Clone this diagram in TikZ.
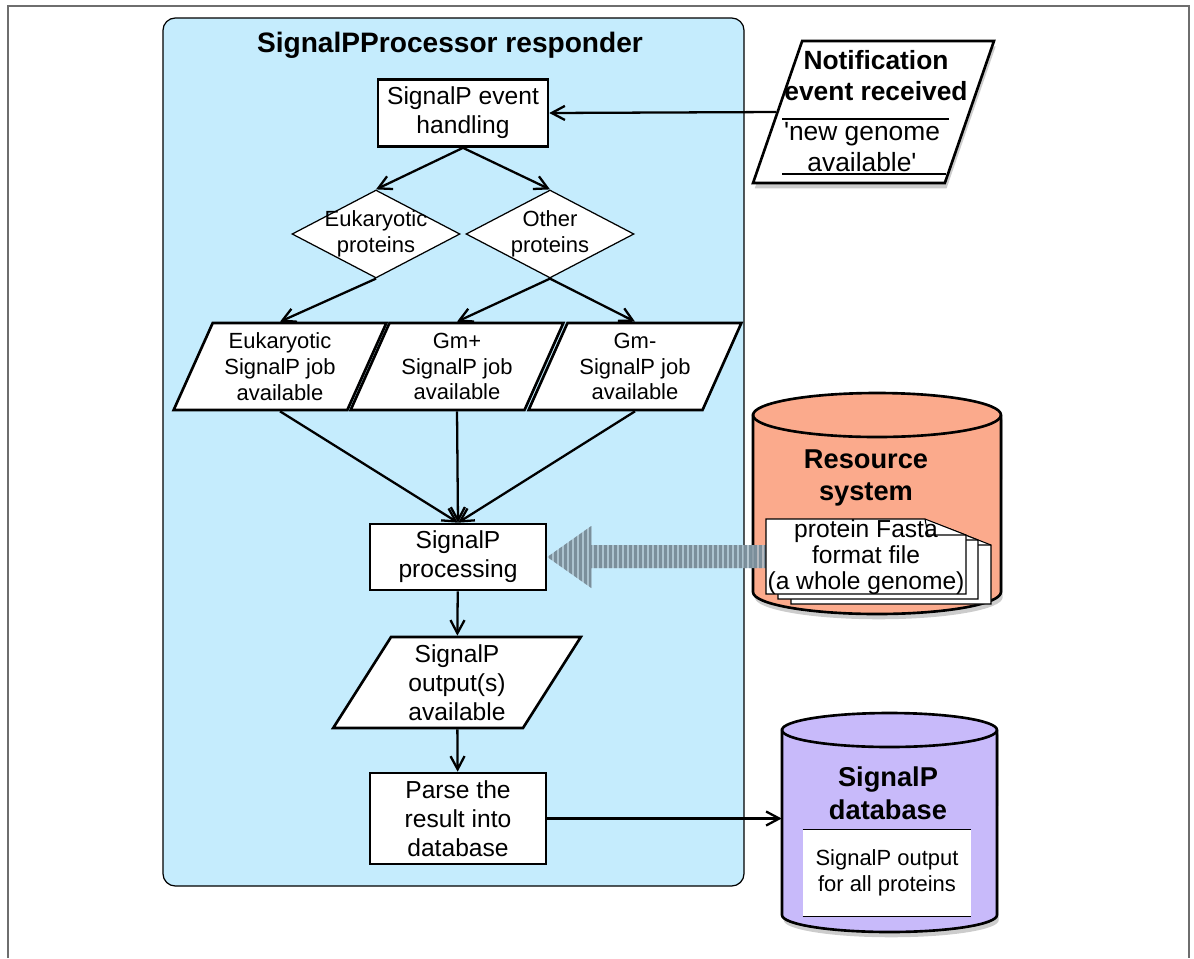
\documentclass[tikz,border=0pt]{standalone}
\usepackage{fontspec}
\setmainfont{Liberation Sans}
\usetikzlibrary{shapes.geometric,arrows.meta,shadows,positioning}

\definecolor{panelblue}{RGB}{197,236,253}
\definecolor{salmon}{RGB}{251,170,140}
\definecolor{lilac}{RGB}{200,186,250}
\definecolor{framegray}{RGB}{110,110,110}
\definecolor{stripedark}{RGB}{118,138,150}
\definecolor{stripelight}{RGB}{168,188,200}

\tikzset{
  every node/.style={font=\fontsize{14}{16.5}\selectfont},
  small/.style={font=\fontsize{12.5}{14.7}\selectfont},
  heading/.style={font=\bfseries\fontsize{15.5}{18.5}\selectfont, align=center},
  procbox/.style={draw, line width=1.5pt, fill=white, align=center, inner sep=1pt},
  iodata/.style={trapezium, trapezium left angle=65, trapezium right angle=115,
    trapezium stretches=true, draw, line width=1.5pt, fill=white, align=center, inner sep=1pt},
  choice/.style={diamond, draw, line width=0.7pt, fill=white, inner sep=0pt,
    minimum width=3.36cm, minimum height=1.76cm},
  storebody/.style={draw, line width=1.5pt,
    drop shadow={opacity=0.4, shadow xshift=1pt, shadow yshift=-3pt}},
  arr/.style={-{Straight Barb[length=7.5pt,width=8pt]}, line width=1.3pt}
}

\begin{document}
\begin{tikzpicture}[x=0.02cm, y=-0.02cm]
\useasboundingbox (0,0) rectangle (1194,958);
\draw[framegray, line width=1.2pt] (8,958) -- (8,6) -- (1189,6) -- (1189,958);

% responder panel
\draw[fill=panelblue, rounded corners=7pt, line width=0.7pt] (163,18) rectangle (744,886);
\node[font=\bfseries\fontsize{16}{19}\selectfont] (title) at (450,45) {SignalPProcessor responder};

\node[procbox, minimum width=3.4cm, minimum height=1.34cm] (event) at (463,113) {SignalP event\\handling};
\node[choice, label={[small, align=center]center:Eukaryotic\\proteins}] (eukq) at (376,234) {};
\node[choice, label={[small, align=center]center:Other\\proteins}] (othq) at (550,234) {};
\node[iodata, small, minimum width=4.26cm, minimum height=1.74cm] (eukjob) at (280,366.5) {Eukaryotic\\SignalP job\\available};
\node[iodata, small, minimum width=4.26cm, minimum height=1.74cm] (gmpjob) at (457,366.5) {Gm+\\SignalP job\\available};
\node[iodata, small, minimum width=4.26cm, minimum height=1.74cm] (gmnjob) at (635,366.5) {Gm-\\SignalP job\\available};
\node[procbox, minimum width=3.52cm, minimum height=1.32cm] (sigproc) at (458,557) {SignalP\\processing};
\node[iodata, trapezium left angle=61, trapezium right angle=119, minimum width=4.96cm, minimum height=1.82cm] (outp) at (457,682.5) {SignalP\\output(s)\\available};
\node[procbox, minimum width=3.52cm, minimum height=1.82cm] (parse) at (458,818.5) {Parse the\\result into\\database};

\draw[arr] (event.south) -- (eukq.north);
\draw[arr] (event.south) -- (othq.north);
\draw[arr] (eukq.south) -- (eukjob.north);
\draw[arr] (othq.south) -- (gmpjob.north);
\draw[arr] (othq.south) -- (gmnjob.north);
\draw[arr] (eukjob.south) -- (sigproc.north);
\draw[arr] (gmpjob.south) -- (sigproc.north);
\draw[arr] (gmnjob.south) -- (sigproc.north);
\draw[arr] (sigproc) -- (outp);
\draw[arr] (outp) -- (parse);

% notification
\node[iodata, trapezium left angle=71, trapezium right angle=109, minimum width=4.82cm, minimum height=2.84cm,
  drop shadow={opacity=0.4, shadow xshift=1pt, shadow yshift=-3pt}] (notif) at (873.5,112) {};
\node[heading, font=\bfseries\fontsize{15}{17.6}\selectfont] (notiftitle) at (876,76) {Notification\\event received};
\node[align=center, font=\fontsize{15}{17.6}\selectfont] (notifmsg) at (862,147) {\textquotesingle new genome\\available\textquotesingle};
\draw[line width=0.7pt] (782,119) -- (949,119);
\draw[line width=0.7pt] (782,174) -- (946,174);
\draw[arr] (notif.west) -- (event.east);

% resource system
\node[minimum width=4.96cm, minimum height=4.42cm, inner sep=0pt] (ressys) at (877,503.5) {};
\path[storebody, fill=salmon] (753,415) -- (753,592) arc[start angle=180, end angle=360, x radius=2.48cm, y radius=0.44cm]
  -- (1001,415) arc[start angle=0, end angle=180, x radius=2.48cm, y radius=0.44cm] -- cycle;
\draw[line width=1.5pt] (753,415) arc[start angle=180, end angle=360, x radius=2.48cm, y radius=0.44cm];
\node[heading] (reslabel) at (866,478) {Resource\\system};
\begin{scope}
\path[fill=stripelight, opacity=0.85] (sigproc.east) -- ++(44,-31) -- ++(0,19) -- ++(176,0) -- ++(0,23) -- ++(-176,0) -- ++(0,20) -- cycle;
\clip (sigproc.east) -- ++(44,-31) -- ++(0,19) -- ++(176,0) -- ++(0,23) -- ++(-176,0) -- ++(0,20) -- cycle;
\foreach \x in {549,554,...,766}
  \fill[stripedark, opacity=0.9] (\x,520) rectangle ++(2.5,75);
\end{scope}
\foreach \dx/\dy in {25/10,12/5,0/0} {
  \begin{scope}[shift={(\dx,\dy)}]
  \draw[fill=white, line width=0.6pt] (766,519) -- (925,519) -- (966,535) -- (966,594) -- (766,594) -- cycle;
  \draw[line width=0.6pt] (925,519) -- (928,535) -- (966,535);
  \end{scope}
}
\node[align=center, font=\fontsize{14}{14.7}\selectfont] (fasta) at (866,557) {protein Fasta\\format file\\(a whole genome)};

% signalp database
\node[minimum width=4.3cm, minimum height=4.38cm, inner sep=0pt] (sigdb) at (889.5,822.5) {};
\path[storebody, fill=lilac] (782,730) -- (782,915) arc[start angle=180, end angle=360, x radius=2.15cm, y radius=0.34cm]
  -- (997,730) arc[start angle=0, end angle=180, x radius=2.15cm, y radius=0.34cm] -- cycle;
\draw[line width=1.5pt] (782,730) arc[start angle=180, end angle=360, x radius=2.15cm, y radius=0.34cm];
\node[heading] (dblabel) at (888,793) {SignalP\\database};
\node[small, align=center, fill=white, minimum width=3.36cm, minimum height=1.72cm] (dbout) at (887,873) {SignalP output\\for all proteins};
\draw[line width=0.8pt] (dbout.north west) -- (dbout.north east);
\draw[line width=0.8pt] (dbout.south west) -- (dbout.south east);
\draw[arr] (parse.east) -- (parse.east -| sigdb.west);
\end{tikzpicture}
\end{document}
